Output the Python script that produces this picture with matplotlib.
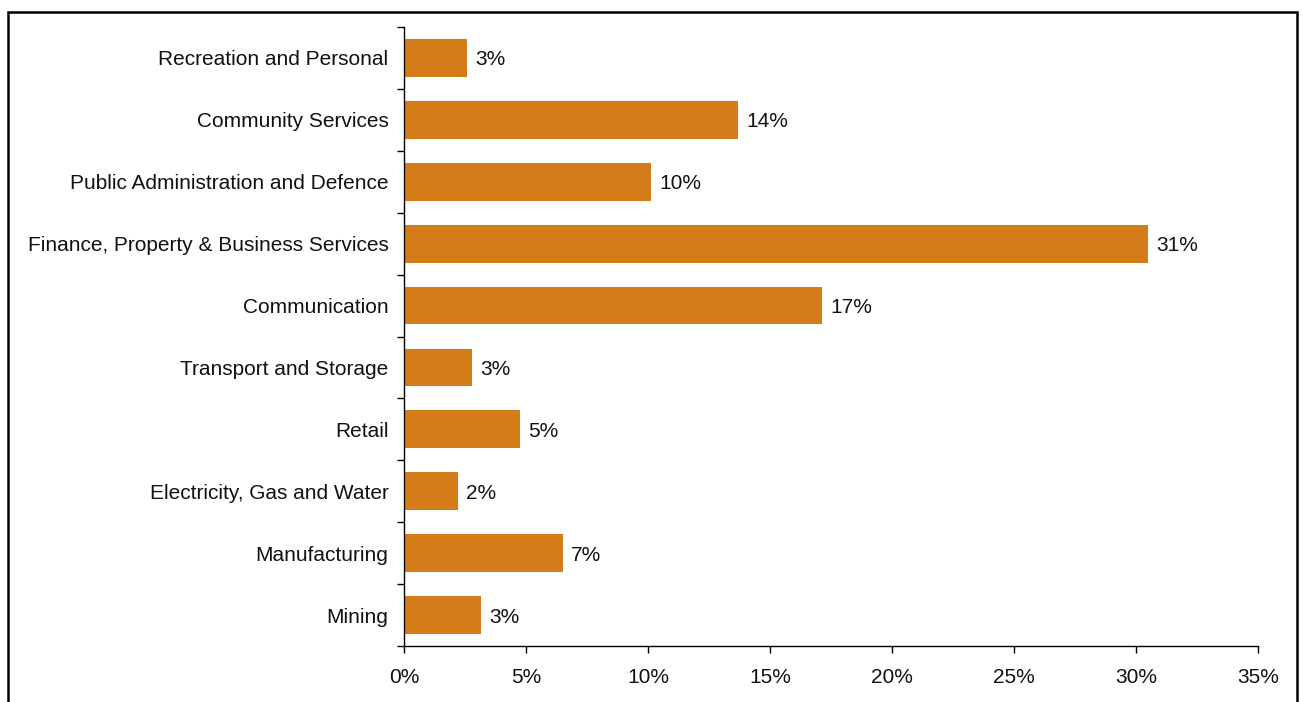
import matplotlib
matplotlib.use("Agg")
import matplotlib.pyplot as plt
from matplotlib.patches import Rectangle
from matplotlib.ticker import FixedLocator, PercentFormatter

categories = ["Mining", "Manufacturing", "Electricity, Gas and Water", "Retail",
              "Transport and Storage", "Communication",
              "Finance, Property & Business Services",
              "Public Administration and Defence", "Community Services",
              "Recreation and Personal"]
values = [3.13, 6.5, 2.2, 4.74, 2.77, 17.12, 30.5, 10.1, 13.66, 2.55]
labels = ["3%", "7%", "2%", "5%", "3%", "17%", "31%", "10%", "14%", "3%"]
xticks = [0, 5, 10, 15, 20, 25, 30, 35]

plt.rcParams['font.family'] = ['Liberation Sans', 'DejaVu Sans']
FS = 15
fig = plt.figure(figsize=(13.03, 7.02), dpi=100)
ax = fig.add_axes([0.3104, 0.0798, 0.6551, 0.8817])

color = '#D47C1A'
ypos = list(range(len(categories)))
ax.barh(ypos, values, height=0.61, color=color, edgecolor='none')
for y, v, lab in zip(ypos, values, labels):
    ax.annotate(lab, (v, y), xytext=(6, 0), textcoords='offset points',
                va='center_baseline', ha='left', fontsize=FS, color='#111111')

ax.set_xlim(0, 35)
ax.set_ylim(-0.5, len(categories) - 0.5)
ax.set_xticks(xticks)
ax.xaxis.set_major_formatter(PercentFormatter(decimals=0))
ax.set_yticks(ypos)
ax.set_yticklabels(categories)
ax.yaxis.set_minor_locator(FixedLocator([i - 0.5 for i in range(len(categories) + 1)]))
ax.tick_params(axis='y', which='major', length=0, pad=11.5, labelsize=FS, labelcolor='#111111')
ax.tick_params(axis='y', which='minor', length=5, width=1, direction='out')
ax.tick_params(axis='x', which='major', length=5, width=1, direction='out', pad=11,
               labelsize=FS, labelcolor='#111111')
for s in ['top', 'right']:
    ax.spines[s].set_visible(False)
for s in ['left', 'bottom']:
    ax.spines[s].set_linewidth(1)
    ax.spines[s].set_color('black')

# outer chart frame
W, H = 1303, 702
fig.patches.append(Rectangle((7.5 / W, -0.05), (1296.5 - 7.5) / W, 1.05 - 11.5 / H,
                             transform=fig.transFigure, fill=False,
                             edgecolor='black', linewidth=1.8))

fig.savefig("out.png", dpi=100)
